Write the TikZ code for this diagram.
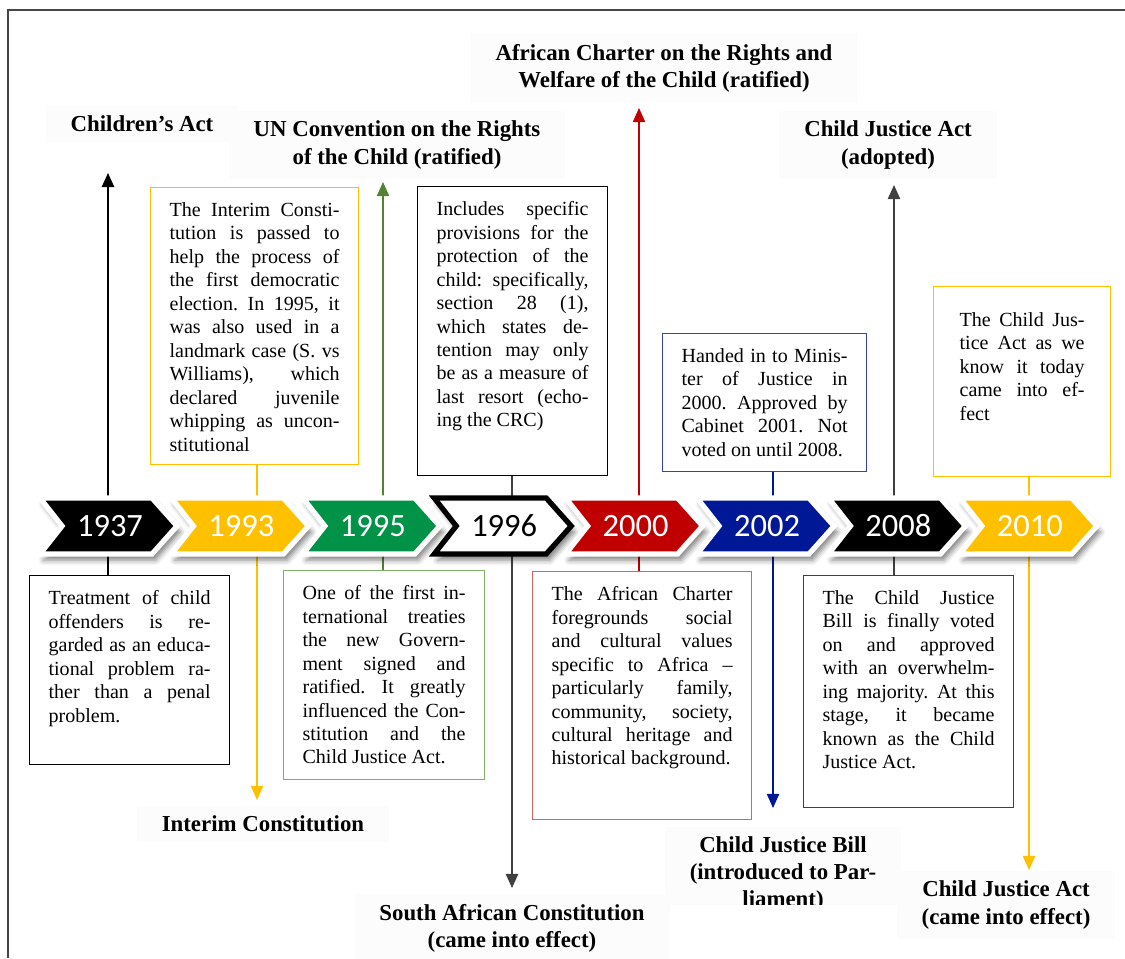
\documentclass[tikz,border=0pt]{standalone}
\usepackage{fontspec}
\setmainfont{Liberation Serif}
\newfontfamily\yearfont{Carlito}
\usepackage{tikz}
\usetikzlibrary{calc,arrows.meta,shadows.blur}
\definecolor{tlyellow}{RGB}{255,192,0}
\definecolor{tlgreen}{RGB}{0,146,70}
\definecolor{tlred}{RGB}{192,0,0}
\definecolor{tlblue}{RGB}{0,24,150}
\definecolor{lngreen}{RGB}{84,130,53}
\definecolor{bxgreen}{RGB}{130,176,100}
\definecolor{bxred}{RGB}{214,102,102}
\definecolor{bxblue}{RGB}{52,68,176}
\definecolor{lngray}{RGB}{64,64,64}
\definecolor{framegray}{RGB}{70,70,70}
\frenchspacing

% one justified line of a box text, broken where the source breaks it
\newcommand{\jl}[1]{\makebox[\linewidth][s]{#1}\\}

\begin{document}
\begin{tikzpicture}[x=0.02cm, y=-0.02cm,
 infobox/.style={draw, fill=white, anchor=north west, inner xsep=0.38cm,
  inner ysep=0.3cm, line width=0.7pt, font=\fontsize{11.4}{13.35}\selectfont},
 event/.style={font=\fontsize{13}{15.4}\selectfont\bfseries, align=center,
  fill=black!1, inner xsep=0.5cm, inner ysep=0.2cm},
 stem/.style={line width=0.6pt, -{Triangle[width=7pt,length=8pt]}},
 yearlbl/.style={font=\yearfont\fontsize{18.5}{20}\selectfont, inner sep=0pt}]
% page is measured in pixels of the source: x to the right, y downward
\useasboundingbox (0,0) rectangle (1125,958);
\draw[framegray, line width=0.9pt] (1125,10) -- (8,10) -- (8,958);

% Boxes above the timeline
\node[infobox, draw=tlyellow] (b1993) at (150,187) {\parbox[t][4.94cm][t]{3.40cm}{%
 \jl{The Interim Consti-}
 \jl{tution is passed to}
 \jl{help the process of}
 \jl{the first democratic}
 \jl{election. In 1995, it}
 \jl{was also used in a}
 \jl{landmark case (S. vs}
 \jl{Williams), which}
 \jl{declared juvenile}
 \jl{whipping as uncon-}
 stitutional}};
\node[infobox, draw=black] (b1996) at (417,186) {\parbox[t][5.18cm][t]{3.04cm}{%
 \jl{Includes specific}
 \jl{provisions for the}
 \jl{protection of the}
 \jl{child: specifically,}
 \jl{section 28 (1),}
 \jl{which states de-}
 \jl{tention may only}
 \jl{be as a measure of}
 \jl{last resort (echo-}
 ing the CRC)}};
\node[infobox, draw=bxblue] (b2002) at (662,333) {\parbox[t][2.16cm][t]{3.32cm}{%
 \jl{Handed in to Minis-}
 \jl{ter of Justice in}
 \jl{2000. Approved by}
 \jl{Cabinet 2001. Not}
 voted on until 2008.}};
\node[infobox, draw=tlyellow, inner xsep=0.52cm, inner ysep=0.52cm] (b2010)
 at (933,286) {\parbox[t][2.76cm][t]{2.5cm}{%
 \jl{The Child Jus-}
 \jl{tice Act as we}
 \jl{know it today}
 \jl{came into ef-}
 fect}};

% Boxes below the timeline
\node[infobox, draw=black] (b1937) at (29,575) {\parbox[t][3.18cm][t]{3.24cm}{%
 \jl{Treatment of child}
 \jl{offenders is re-}
 \jl{garded as an educa-}
 \jl{tional problem ra-}
 \jl{ther than a penal}
 problem.}};
\node[infobox, draw=bxgreen] (b1995) at (283,570) {\parbox[t][3.58cm][t]{3.26cm}{%
 \jl{One of the first in-}
 \jl{ternational treaties}
 \jl{the new Govern-}
 \jl{ment signed and}
 \jl{ratified. It greatly}
 \jl{influenced the Con-}
 \jl{stitution and the}
 Child Justice Act.}};
\node[infobox, draw=bxred] (b2000) at (532,571) {\parbox[t][4.36cm][t]{3.62cm}{%
 \jl{The African Charter}
 \jl{foregrounds social}
 \jl{and cultural values}
 \jl{specific to Africa –}
 \jl{particularly family,}
 \jl{community, society,}
 \jl{cultural heritage and}
 historical background.}};
\node[infobox, draw=lngray] (b2008) at (803,575) {\parbox[t][4.04cm][t]{3.44cm}{%
 \jl{The Child Justice}
 \jl{Bill is finally voted}
 \jl{on and approved}
 \jl{with an overwhelm-}
 \jl{ing majority. At this}
 \jl{stage, it became}
 \jl{known as the Child}
 Justice Act.}};

% Event titles
\node[event] (h1937) at (142,124) {Children’s Act};
\node[event] (h1995) at (397,145) {UN Convention on the Rights\\of the Child (ratified)};
\node[event] (h2000) at (664,68) {African Charter on the Rights and\\Welfare of the Child (ratified)};
\node[event] (h2008) at (888,145) {Child Justice Act\\(adopted)};
\node[event] (h1993) at (263,824) {Interim Constitution};
\node[event] (h1996) at (512,928) {South African Constitution\\(came into effect)};
\node[event] (h2010) at (1006,905) {Child Justice Act\\(came into effect)};
\begin{scope}
 \clip (640,815) rectangle (930,904);
 \node[event] (h2002) at (783,874) {Child Justice Bill\\(introduced to Par-\\liament)};
\end{scope}

% Arrow tips under / over the titles
\coordinate (a1937) at (108,173);
\coordinate (a1993) at (257,800);
\coordinate (a1995) at (383,182);
\coordinate (a1996) at (512,888);
\coordinate (a2000) at (639,108);
\coordinate (a2002) at (773,808);
\coordinate (a2008) at (894,185);
\coordinate (a2010) at (1029,870);

\draw[stem, black, line width=1.1pt] (a1937 |- b1937.north) -- (a1937);
\draw[stem, tlyellow] (a1993 |- b1993.south) -- (a1993);
\draw[stem, lngreen] (a1995 |- b1995.north) -- (a1995);
\draw[stem, lngray, line width=0.8pt] (a1996 |- b1996.south) -- (a1996);
\draw[stem, tlred] (a2000 |- b2000.north) -- (a2000);
\draw[stem, tlblue] (a2002 |- b2002.south) -- (a2002);
\draw[stem, lngray, line width=0.8pt] (a2008 |- b2008.north) -- (a2008);
\draw[stem, tlyellow] (a2010 |- b2010.south) -- (a2010);

% Chevron timeline
\foreach \yr/\fc/\bc/\tc [count=\i from 0] in {1937/black/white/white,
  1993/tlyellow/white/white, 1995/tlgreen/white/white, 1996/white/black/black,
  2000/tlred/white/white, 2002/tlblue/white/white, 2008/black/white/white,
  2010/tlyellow/white/white}{
 \pgfmathsetmacro{\xo}{40+131.4*\i}
 \draw[line width=3pt, draw=\bc, fill=\fc, line join=miter,
  blur shadow={shadow xshift=2pt, shadow yshift=-3.5pt, shadow blur radius=3pt,
  shadow opacity=50}]
  (\xo,498) -- ++(112,0) -- ++(25,28) -- ++(-25,28) -- ++(-112,0)
  -- ++(22,-28) -- cycle;
 \node[yearlbl, text=\tc] (y\yr) at (\xo+70,526) {\yr};
}
\end{tikzpicture}
\end{document}
